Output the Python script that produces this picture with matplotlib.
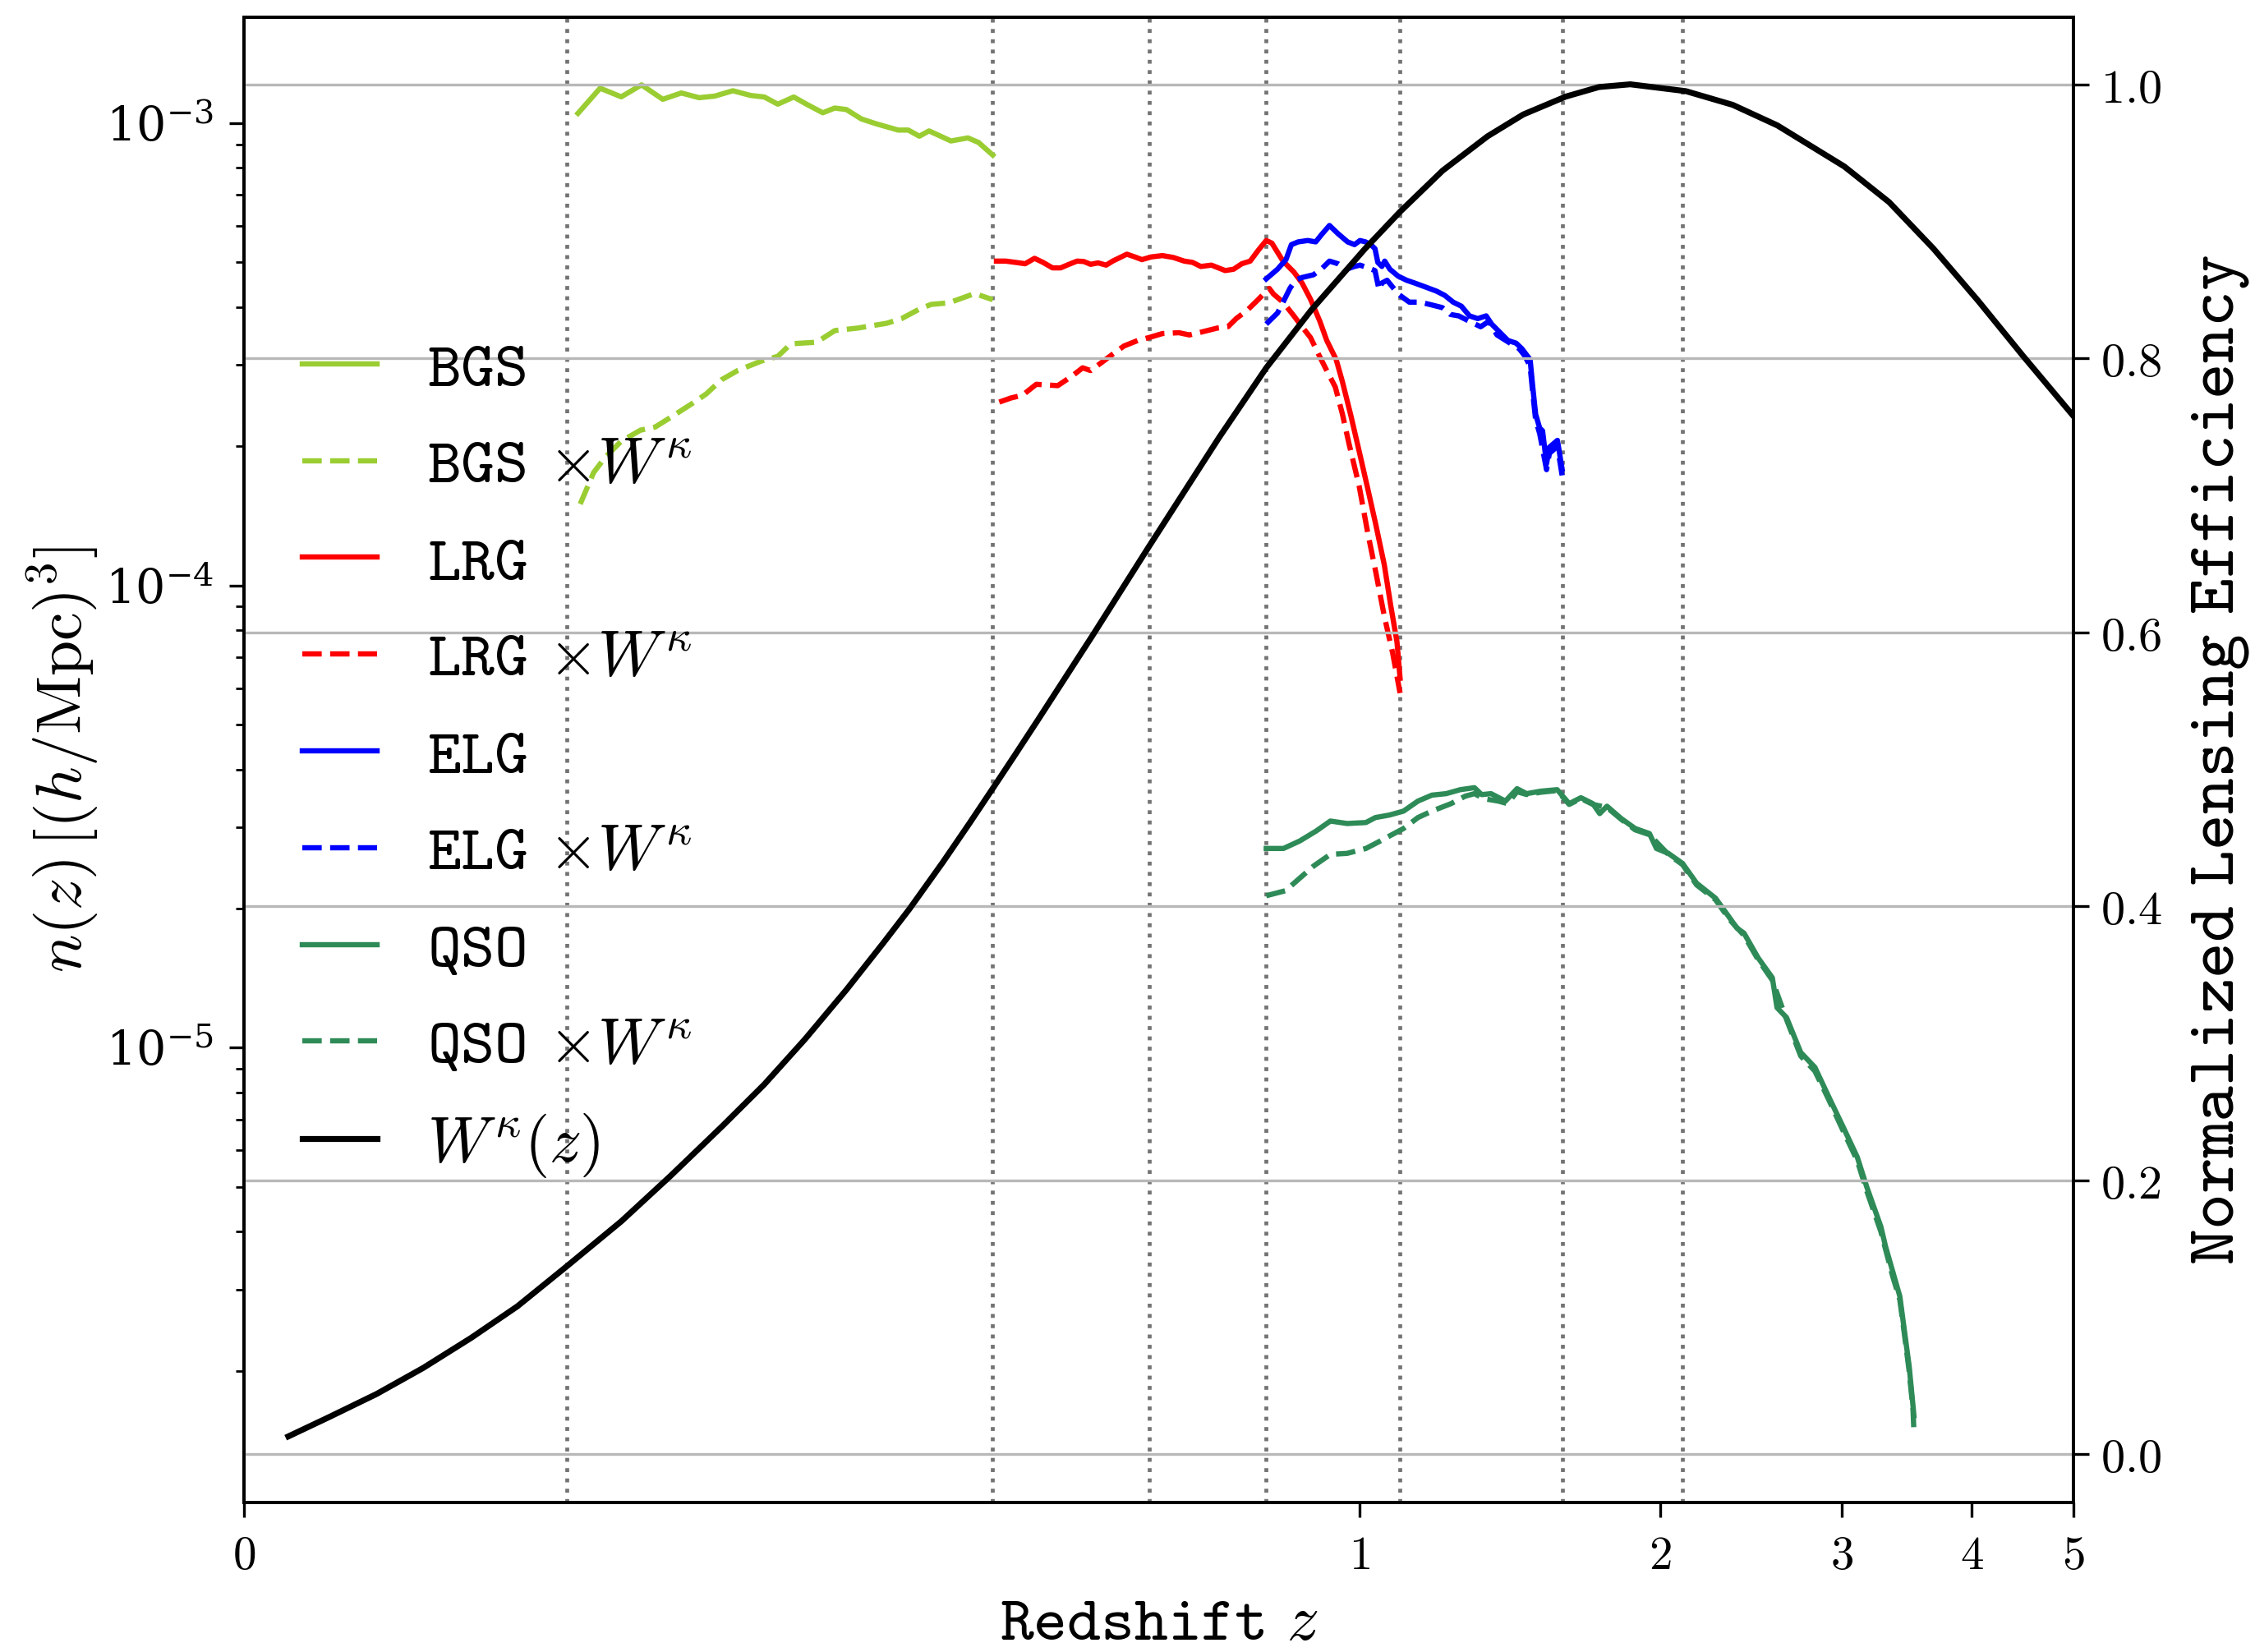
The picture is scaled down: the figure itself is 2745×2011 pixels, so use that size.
import matplotlib
matplotlib.use("Agg")
import matplotlib.pyplot as plt
import numpy as np
from matplotlib.ticker import NullLocator

plt.rcParams["mathtext.fontset"] = "cm"
plt.rcParams["font.family"] = "serif"
plt.rcParams["font.serif"] = ["DejaVu Serif"]

# redshift bin edges (dotted lines)
bin_edges = [0.1, 0.4, 0.6, 0.8, 1.1, 1.6, 2.1]

# BGS n(z) and n(z) x W
bgs_z = [0.105, 0.115, 0.125, 0.135, 0.146, 0.156, 0.166, 0.175, 0.186, 0.197, 0.206, 0.215, 0.226, 0.236,
         0.247, 0.256, 0.265, 0.277, 0.289, 0.308, 0.317, 0.327, 0.336, 0.357, 0.374, 0.385, 0.40]
bgs_n = np.array([10.5, 11.9, 11.4, 12.1, 11.26, 11.62, 11.35, 11.44, 11.75, 11.48, 11.39, 10.99, 11.39, 10.95,
                  10.53, 10.78, 10.70, 10.21, 9.97, 9.66, 9.66, 9.37, 9.62, 9.15, 9.29, 9.08, 8.53]) * 1e-4
bgsw_z = [0.106, 0.112, 0.1175, 0.125, 0.1345, 0.142, 0.150, 0.162, 0.170, 0.179, 0.189, 0.204, 0.215, 0.224,
          0.2425, 0.256, 0.274, 0.298, 0.311, 0.327, 0.338, 0.355, 0.381, 0.40]
bgsw_n = np.array([1.50, 1.754, 1.897, 2.051, 2.167, 2.201, 2.307, 2.474, 2.594, 2.784, 2.917, 3.057, 3.13, 3.332,
                   3.358, 3.558, 3.603, 3.69, 3.777, 3.96, 4.054, 4.086, 4.28, 4.15]) * 1e-4

# LRG
lrg_z = [0.404, 0.414, 0.425, 0.436, 0.447, 0.457, 0.4685, 0.4785, 0.489, 0.4994, 0.508, 0.517, 0.527, 0.538,
         0.547, 0.567, 0.5785, 0.589, 0.603, 0.620, 0.637, 0.6545, 0.668, 0.682, 0.700, 0.724, 0.739, 0.754,
         0.7695, 0.785, 0.8, 0.811, 0.833, 0.855, 0.872, 0.890, 0.910, 0.925, 0.946, 0.960, 0.979, 0.999,
         1.019, 1.039, 1.060, 1.076, 1.092, 1.10]
lrg_n = np.array([5.03, 5.03, 4.998, 4.964, 5.10, 4.998, 4.863, 4.863, 4.95, 5.03, 5.02, 4.95, 4.985, 4.93,
                  5.03, 5.206, 5.136, 5.067, 5.136, 5.17, 5.122, 5.03, 4.998, 4.897, 4.93, 4.798, 4.83, 4.964,
                  5.03, 5.314, 5.574, 5.50, 5.03, 4.764, 4.51, 4.157, 3.726, 3.388, 3.08, 2.761, 2.342, 1.951,
                  1.626, 1.354, 1.108, 0.906, 0.755, 0.63]) * 1e-4
lrgw_z = [0.407, 0.420, 0.433, 0.449, 0.459, 0.475, 0.493, 0.5065, 0.517, 0.532, 0.547, 0.563, 0.583, 0.599,
          0.620, 0.646, 0.663, 0.682, 0.710, 0.729, 0.744, 0.764, 0.785, 0.8, 0.806, 0.814, 0.833, 0.855,
          0.872, 0.890, 0.907, 0.925, 0.944, 0.960, 0.975, 0.999, 1.019, 1.039, 1.060, 1.081, 1.10]
lrgw_n = np.array([2.492, 2.544, 2.579, 2.723, 2.716, 2.705, 2.838, 2.956, 2.916, 3.037, 3.164, 3.296, 3.388,
                   3.435, 3.506, 3.521, 3.482, 3.53, 3.603, 3.628, 3.78, 3.938, 4.157, 4.33, 4.39, 4.27, 4.10,
                   3.83, 3.628, 3.435, 3.164, 2.916, 2.687, 2.35, 2.03, 1.64, 1.305, 1.068, 0.858, 0.714,
                   0.585]) * 1e-4

# ELG
elg_z = [0.80, 0.822, 0.839, 0.850, 0.864, 0.884, 0.901, 0.913, 0.931, 0.950, 0.972, 0.988, 1.001, 1.014,
         1.027, 1.037, 1.044, 1.054, 1.061, 1.074, 1.095, 1.117, 1.138, 1.168, 1.198, 1.221, 1.245, 1.269,
         1.293, 1.318, 1.344, 1.361, 1.387, 1.413, 1.440, 1.459, 1.487, 1.496, 1.506, 1.520, 1.530, 1.544,
         1.554, 1.583, 1.60]
elg_n = np.array([4.603, 4.83, 5.067, 5.46, 5.535, 5.573, 5.535, 5.73, 6.007, 5.768, 5.535, 5.46, 5.573, 5.535,
                  5.46, 5.35, 4.996, 4.897, 5.03, 4.83, 4.667, 4.572, 4.51, 4.419, 4.33, 4.24, 4.10, 4.018,
                  3.829, 3.777, 3.829, 3.676, 3.528, 3.388, 3.342, 3.252, 3.08, 2.687, 2.344, 2.19, 2.16, 1.834,
                  1.99, 2.06, 1.785]) * 1e-4
elgw_z = [0.80, 0.822, 0.836, 0.847, 0.858, 0.872, 0.896, 0.913, 0.931, 0.950, 0.969, 0.988, 1.001, 1.020,
          1.037, 1.047, 1.054, 1.067, 1.095, 1.124, 1.153, 1.183, 1.214, 1.237, 1.261, 1.293, 1.327, 1.352,
          1.378, 1.413, 1.450, 1.468, 1.487, 1.496, 1.506, 1.520, 1.544, 1.554, 1.583, 1.60]
elgw_n = np.array([3.676, 3.883, 4.157, 4.39, 4.572, 4.635, 4.698, 4.83, 5.03, 4.964, 4.83, 4.897, 4.93, 4.863,
                   4.798, 4.36, 4.51, 4.572, 4.27, 4.10, 4.10, 4.046, 3.99, 3.856, 3.829, 3.726, 3.627, 3.726,
                   3.482, 3.365, 3.252, 3.144, 2.98, 2.61, 2.28, 2.13, 1.78, 1.93, 2.00, 1.73]) * 1e-4

# QSO
qso_z = [0.80, 0.834, 0.867, 0.902, 0.933, 0.971, 1.015, 1.038, 1.073, 1.109, 1.147, 1.185, 1.225, 1.266,
         1.308, 1.330, 1.359, 1.405, 1.443, 1.475, 1.524, 1.582, 1.626, 1.670, 1.716, 1.743, 1.772, 1.830,
         1.889, 1.951, 1.982, 2.036, 2.102, 2.170, 2.264, 2.338, 2.375, 2.413, 2.491, 2.571, 2.598, 2.654,
         2.739, 2.827, 2.917, 3.011, 3.106, 3.172, 3.273, 3.307, 3.360, 3.413, 3.448, 3.484, 3.514, 3.521]
qso_n = np.array([2.698, 2.698, 2.80, 2.943, 3.093, 3.055, 3.07, 3.147, 3.187, 3.25, 3.416, 3.519, 3.545, 3.616,
                  3.652, 3.528, 3.545, 3.416, 3.634, 3.545, 3.589, 3.616, 3.373, 3.474, 3.373, 3.21, 3.33,
                  3.132, 2.98, 2.906, 2.698, 2.633, 2.505, 2.269, 2.106, 1.907, 1.815, 1.770, 1.564, 1.417,
                  1.221, 1.162, 0.977, 0.907, 0.781, 0.673, 0.580, 0.500, 0.410, 0.3715, 0.328, 0.290, 0.244,
                  0.205, 0.168, 0.160]) * 1e-5
qsow_z = [0.80, 0.838, 0.867, 0.897, 0.933, 0.971, 1.015, 1.050, 1.073, 1.109, 1.147, 1.185, 1.239, 1.280,
          1.308, 1.337, 1.382, 1.412, 1.443, 1.475, 1.524, 1.582, 1.626, 1.670, 1.716, 1.772, 1.830, 1.889,
          1.951, 2.036, 2.102, 2.170, 2.264, 2.338, 2.413, 2.491, 2.571, 2.654, 2.739, 2.827, 2.917, 3.011,
          3.106, 3.172, 3.273, 3.360, 3.413, 3.448, 3.484, 3.514, 3.521]
qsow_n = np.array([2.132, 2.186, 2.326, 2.474, 2.62, 2.633, 2.698, 2.80, 2.871, 2.98, 3.147, 3.25, 3.373, 3.50,
                   3.545, 3.457, 3.416, 3.373, 3.58, 3.53, 3.57, 3.60, 3.36, 3.46, 3.36, 3.31, 3.12, 2.96,
                   2.89, 2.62, 2.49, 2.25, 2.09, 1.89, 1.75, 1.55, 1.40, 1.15, 0.96, 0.89, 0.77, 0.66, 0.57,
                   0.49, 0.40, 0.32, 0.285, 0.24, 0.20, 0.165, 0.148]) * 1e-5

# normalized CMB lensing efficiency W^kappa(z)
wk_z = [0.01, 0.02, 0.033, 0.047, 0.063, 0.08, 0.10, 0.125, 0.15, 0.18, 0.206, 0.234, 0.265, 0.295, 0.318,
        0.349, 0.376, 0.401, 0.424, 0.452, 0.52, 0.60, 0.713, 0.80, 0.891, 1.013, 1.10, 1.215, 1.348, 1.464,
        1.613, 1.740, 1.868, 2.118, 2.353, 2.60, 3.018, 3.333, 3.677, 4.057, 4.475, 5.0]
wk = [0.013, 0.027, 0.044, 0.063, 0.085, 0.108, 0.137, 0.170, 0.203, 0.240, 0.270, 0.303, 0.339, 0.373, 0.398,
      0.432, 0.461, 0.487, 0.510, 0.537, 0.598, 0.663, 0.742, 0.793, 0.835, 0.880, 0.907, 0.937, 0.962, 0.978,
      0.991, 0.998, 1.000, 0.995, 0.985, 0.970, 0.940, 0.914, 0.880, 0.842, 0.802, 0.758]

x_ticks = [0, 1, 2, 3, 4, 5]
w_ticks = [0.0, 0.2, 0.4, 0.6, 0.8, 1.0]


def fwd(z):
    return np.log10(np.clip(np.asarray(z, dtype=float) + 0.1, 1e-6, None))


def inv(x):
    return 10.0 ** np.asarray(x, dtype=float) - 0.1


fig = plt.figure(figsize=(13.725, 10.055), dpi=200)
ax = fig.add_axes([0.1082, 0.0907, 0.8112, 0.8989])
ax2 = ax.twinx()

ax.set_xscale("function", functions=(fwd, inv))
ax.set_yscale("log")

lw = 2.3
h = []
h += ax.plot(bgs_z, bgs_n, color="yellowgreen", lw=lw, label=r"$\mathtt{BGS}$")
h += ax.plot(bgsw_z, bgsw_n, color="yellowgreen", lw=lw, ls="--", label=r"$\mathtt{BGS}$ $\times W^{\kappa}$")
h += ax.plot(lrg_z, lrg_n, color="red", lw=lw, label=r"$\mathtt{LRG}$")
h += ax.plot(lrgw_z, lrgw_n, color="red", lw=lw, ls="--", label=r"$\mathtt{LRG}$ $\times W^{\kappa}$")
h += ax.plot(elg_z, elg_n, color="blue", lw=lw, label=r"$\mathtt{ELG}$")
h += ax.plot(elgw_z, elgw_n, color="blue", lw=lw, ls="--", label=r"$\mathtt{ELG}$ $\times W^{\kappa}$")
h += ax.plot(qso_z, qso_n, color="seagreen", lw=lw, label=r"$\mathtt{QSO}$")
h += ax.plot(qsow_z, qsow_n, color="seagreen", lw=lw, ls="--", label=r"$\mathtt{QSO}$ $\times W^{\kappa}$")
h += ax2.plot(wk_z, wk, color="black", lw=2.6, label=r"$W^{\kappa}(z)$")

for zb in bin_edges:
    ax.axvline(zb, color="0.45", ls=":", lw=1.7, zorder=0)

ax2.yaxis.grid(True, color="0.72", lw=1.2)

ax.set_xlim(0, 5)
ax.set_ylim(1.04e-6, 1.695e-3)
ax2.set_ylim(-0.035, 1.049)

ax.set_xticks(x_ticks)
ax.set_xticklabels([r"$%d$" % t for t in x_ticks])
ax.xaxis.set_minor_locator(NullLocator())
ax2.set_yticks(w_ticks)
ax2.set_yticklabels([r"$\mathtt{%.1f}$" % t for t in w_ticks])

ax.tick_params(axis="both", which="major", labelsize=20.5, length=6.5, width=1.2, pad=7)
ax.tick_params(axis="y", which="minor", length=3.6, width=1.0)
ax2.tick_params(axis="y", which="major", labelsize=21, length=6.8, width=1.2, pad=5)

for a in (ax, ax2):
    for s in a.spines.values():
        s.set_linewidth(1.4)

ax.set_xlabel(r"$\mathtt{Redshift}\ z$", fontsize=28)
ax.xaxis.set_label_coords(0.5, -0.0595)
ax.set_ylabel(r"$n(z)\,[(h/\mathrm{Mpc})^3]$", fontsize=28)
ax.yaxis.set_label_coords(-0.078, 0.5)
ax2.set_ylabel(r"$\mathtt{Normalized\ Lensing\ Efficiency}$", fontsize=30)
ax2.yaxis.set_label_coords(1.061, 0.5)

ax2.legend(h, [l.get_label() for l in h], loc="center left", bbox_to_anchor=(0.0317, 0.501),
           frameon=False, fontsize=28, handlelength=1.17, handletextpad=0.79, labelspacing=0.54,
           borderpad=0, borderaxespad=0)

fig.savefig("out.png", dpi=200)
